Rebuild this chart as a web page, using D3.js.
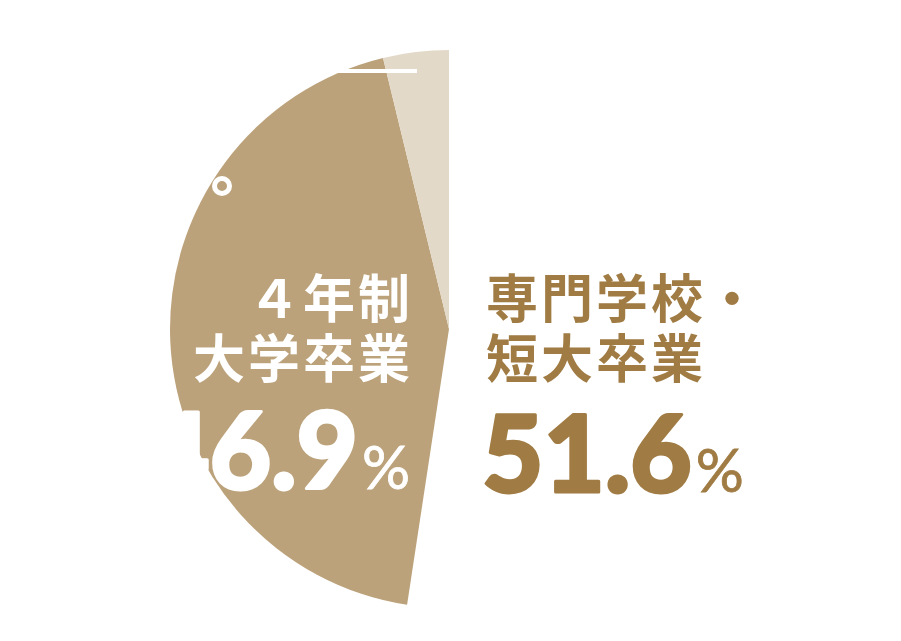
<!DOCTYPE html>
<html>
<head>
<meta charset="utf-8">
<script src="https://cdn.jsdelivr.net/npm/d3@7"></script>
<style>
  body { margin: 0; background: #fff; }
  svg { display: block; }
</style>
</head>
<body>
<svg id="chart" width="901" height="641"></svg>
<script>
// slices, clockwise from 12 o'clock (shares as drawn in the picture)
const categories = ["専門学校・短大卒業", "4年制大学卒業", "その他"]
const shares     = [52.4, 43.8, 3.8]
const sliceColors = ["#ffffff", "#bca27a", "#e3d9c8"]

// labels
const labelLines = [["４年制", "大学卒業"], ["専門学校・", "短大卒業"]]
const labelValues = ["46.9", "51.6"]

const W = 901, H = 641
const cx = 449, cy = 329, R = 279

const svg = d3.select("#chart")
const g = svg.append("g").attr("transform", `translate(${cx},${cy})`)

const pie = d3.pie().sort(null).value(d => d)
const arc = d3.arc().innerRadius(0).outerRadius(R)

g.selectAll("path.slice")
  .data(pie(shares))
  .join("path")
  .attr("class", "slice")
  .attr("d", arc)
  .attr("fill", (d, i) => sliceColors[i])

// white bits of hidden white text behind the pie
svg.append("rect").attr("x", 300).attr("y", 69).attr("width", 117).attr("height", 4).attr("fill", "#fff")
svg.append("circle").attr("cx", 222).attr("cy", 186).attr("r", 7.5)
   .attr("fill", "none").attr("stroke", "#fff").attr("stroke-width", 5)

const jp = "'Noto Sans CJK JP', sans-serif"
const num = "Lato, 'Open Sans', sans-serif"

function bigValue(sel, x, y, anchor, color, value) {
  const t = sel.append("text")
    .attr("x", x).attr("y", y)
    .attr("text-anchor", anchor)
    .attr("fill", color)
    .style("font-family", num).style("font-weight", 900)
  t.append("tspan")
    .style("font-size", "106px")
    .attr("stroke", color).attr("stroke-width", 3).attr("stroke-linejoin", "round")
    .text(value)
  t.append("tspan").attr("dx", 4)
    .style("font-size", "60px").style("font-weight", 400)
    .attr("stroke", color).attr("stroke-width", 0.8)
    .text("%")
  return t
}

// left label (white, right aligned)
const left = svg.append("g").attr("fill", "#fff")
labelLines[0].forEach((t, i) => {
  left.append("text")
    .attr("x", 410).attr("y", 318 + i * 60)
    .attr("text-anchor", "end")
    .style("font-family", jp).style("font-weight", 700)
    .style("font-size", "52px")
    .style("letter-spacing", "3px")
    .attr("dx", 3)
    .text(t)
})
bigValue(left, 410, 489, "end", "#fff", labelValues[0])

// right label (gold, left aligned)
const right = svg.append("g").attr("fill", "#a07c44")
labelLines[1].forEach((t, i) => {
  right.append("text")
    .attr("x", 486).attr("y", 318 + i * 60)
    .style("font-family", jp).style("font-weight", 700)
    .style("font-size", "52px")
    .style("letter-spacing", "3px")
    .text(t)
})
bigValue(right, 482, 492, "start", "#a07c44", labelValues[1])
</script>
</body>
</html>
